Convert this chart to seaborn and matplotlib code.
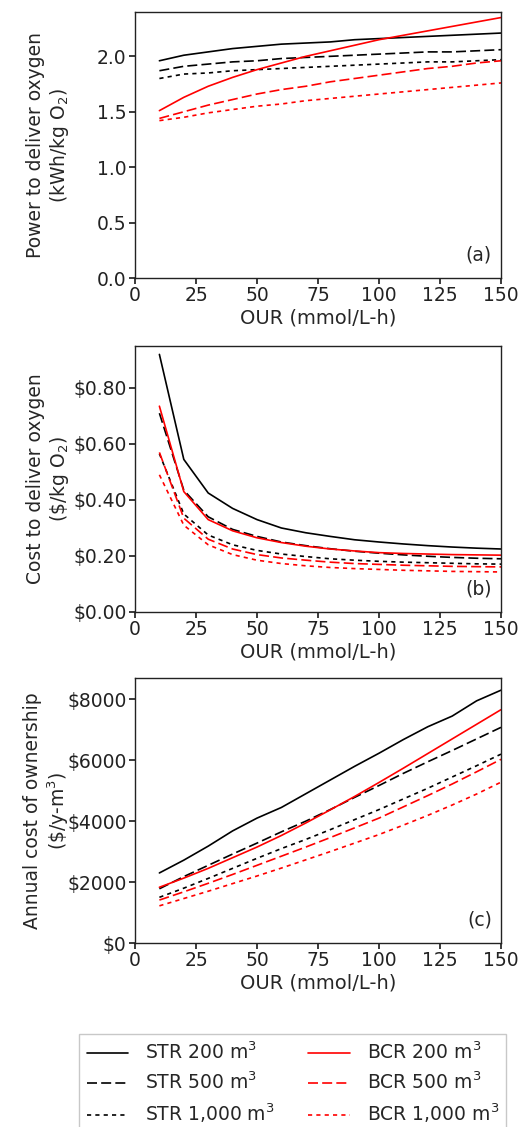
import numpy as np
import pandas as pd
import matplotlib
matplotlib.use("Agg")
import matplotlib.pyplot as plt
import seaborn as sns

# ---- data ----
our = [10, 20, 30, 40, 50, 60, 70, 80, 90, 100, 110, 120, 130, 140, 150]

power_str200 = [1.96, 2.01, 2.04, 2.07, 2.09, 2.11, 2.12, 2.13, 2.15, 2.16, 2.17, 2.18, 2.19, 2.20, 2.21]
power_str500 = [1.87, 1.91, 1.93, 1.95, 1.96, 1.98, 1.99, 2.00, 2.01, 2.02, 2.03, 2.04, 2.04, 2.05, 2.06]
power_str1000 = [1.80, 1.84, 1.85, 1.87, 1.88, 1.89, 1.90, 1.91, 1.92, 1.93, 1.94, 1.95, 1.95, 1.96, 1.97]
power_bcr200 = [1.51, 1.63, 1.73, 1.81, 1.88, 1.94, 2.00, 2.05, 2.10, 2.15, 2.19, 2.23, 2.27, 2.31, 2.35]
power_bcr500 = [1.44, 1.50, 1.56, 1.61, 1.66, 1.70, 1.73, 1.77, 1.80, 1.83, 1.86, 1.89, 1.91, 1.94, 1.96]
power_bcr1000 = [1.42, 1.45, 1.49, 1.52, 1.55, 1.57, 1.60, 1.62, 1.64, 1.66, 1.68, 1.70, 1.72, 1.74, 1.76]

cost_str200 = [0.92, 0.545, 0.425, 0.37, 0.33, 0.30, 0.283, 0.27, 0.258, 0.25, 0.243, 0.237, 0.232, 0.228, 0.225]
cost_str500 = [0.71, 0.435, 0.34, 0.295, 0.27, 0.25, 0.237, 0.226, 0.217, 0.21, 0.204, 0.199, 0.195, 0.192, 0.19]
cost_str1000 = [0.565, 0.35, 0.275, 0.24, 0.22, 0.207, 0.198, 0.19, 0.185, 0.181, 0.178, 0.176, 0.174, 0.172, 0.171]
cost_bcr200 = [0.735, 0.43, 0.33, 0.29, 0.265, 0.248, 0.235, 0.225, 0.218, 0.212, 0.209, 0.207, 0.205, 0.204, 0.203]
cost_bcr500 = [0.57, 0.335, 0.26, 0.225, 0.205, 0.193, 0.185, 0.178, 0.173, 0.17, 0.167, 0.165, 0.163, 0.162, 0.161]
cost_bcr1000 = [0.49, 0.31, 0.24, 0.205, 0.185, 0.173, 0.165, 0.159, 0.155, 0.152, 0.149, 0.147, 0.145, 0.144, 0.143]

own_str200 = [2300, 2720, 3180, 3680, 4100, 4450, 4900, 5350, 5800, 6230, 6680, 7100, 7450, 7950, 8300]
own_str500 = [1780, 2180, 2550, 2920, 3280, 3650, 4000, 4380, 4780, 5170, 5570, 5950, 6320, 6700, 7080]
own_str1000 = [1500, 1800, 2120, 2450, 2780, 3100, 3400, 3720, 4050, 4380, 4730, 5080, 5450, 5820, 6200]
own_bcr200 = [1830, 2130, 2450, 2800, 3150, 3530, 3940, 4370, 4810, 5270, 5740, 6220, 6700, 7180, 7660]
own_bcr500 = [1410, 1680, 1960, 2250, 2550, 2850, 3150, 3460, 3780, 4100, 4470, 4840, 5220, 5620, 6030]
own_bcr1000 = [1220, 1460, 1700, 1950, 2200, 2460, 2730, 3000, 3280, 3560, 3870, 4190, 4530, 4890, 5280]

series_labels = ["STR 200 m$^3$", "STR 500 m$^3$", "STR 1,000 m$^3$",
                 "BCR 200 m$^3$", "BCR 500 m$^3$", "BCR 1,000 m$^3$"]

x_ticks = [0, 25, 50, 75, 100, 125, 150]
ticks_a = [0.0, 0.5, 1.0, 1.5, 2.0]
ticks_b = [0.0, 0.2, 0.4, 0.6, 0.8]
ticks_c = [0, 2000, 4000, 6000, 8000]

# ---- style ----
sns.set_theme(style="ticks")
plt.rcParams["font.family"] = ["DejaVu Sans"]
FS = 13.5
plt.rcParams["font.size"] = FS
plt.rcParams["axes.linewidth"] = 1.0
plt.rcParams["xtick.labelsize"] = FS
plt.rcParams["ytick.labelsize"] = FS

colors = ["black", "black", "black", "red", "red", "red"]
styles = ["-", (0, (6, 2.5)), (0, (2.5, 2.5)), "-", (0, (6, 2.5)), (0, (2.5, 2.5))]

W, H = 523, 1127
fig = plt.figure(figsize=(W / 100, H / 100), dpi=100)

def ax_rect(top_px, bottom_px, left_px=135, right_px=501):
    return [left_px / W, 1 - bottom_px / H, (right_px - left_px) / W, (bottom_px - top_px) / H]

ax_a = fig.add_axes(ax_rect(12, 278))
ax_b = fig.add_axes(ax_rect(346, 612))
ax_c = fig.add_axes(ax_rect(678, 943))

panels = [
    (ax_a, [power_str200, power_str500, power_str1000, power_bcr200, power_bcr500, power_bcr1000]),
    (ax_b, [cost_str200, cost_str500, cost_str1000, cost_bcr200, cost_bcr500, cost_bcr1000]),
    (ax_c, [own_str200, own_str500, own_str1000, own_bcr200, own_bcr500, own_bcr1000]),
]

handles = []
for i, (ax, data) in enumerate(panels):
    for j, vals in enumerate(data):
        df = pd.DataFrame({"OUR": our, "val": vals})
        sns.lineplot(data=df, x="OUR", y="val", ax=ax, color=colors[j],
                     linestyle=styles[j], linewidth=1.2, label=series_labels[j],
                     legend=False)
    if i == 0:
        handles = ax.get_lines()[:6]

for ax in (ax_a, ax_b, ax_c):
    ax.set_xlim(0, 150)
    ax.set_xticks(x_ticks)
    ax.set_xlabel("OUR (mmol/L-h)", fontsize=FS + 0.5, labelpad=2)
    for s in ax.spines.values():
        s.set_color("#222222")
    ax.tick_params(direction="out", length=4, colors="#222222", pad=2)

ax_a.set_ylim(0, 2.4)
ax_a.set_yticks(ticks_a)
ax_a.set_yticklabels([f"{t:.1f}" for t in ticks_a])
ax_a.set_ylabel("Power to deliver oxygen\n(kWh/kg O$_2$)", fontsize=FS)

ax_b.set_ylim(0, 0.95)
ax_b.set_yticks(ticks_b)
ax_b.set_yticklabels([f"${t:.2f}" for t in ticks_b])
ax_b.set_ylabel("Cost to deliver oxygen\n(\\$/kg O$_2$)", fontsize=FS)

ax_c.set_ylim(0, 8700)
ax_c.set_yticks(ticks_c)
ax_c.set_yticklabels([f"${t}" for t in ticks_c])
ax_c.set_ylabel("Annual cost of ownership\n(\\$/y-m$^3$)", fontsize=FS)

for ax, tag in zip((ax_a, ax_b, ax_c), ["(a)", "(b)", "(c)"]):
    ax.text(0.975, 0.05, tag, transform=ax.transAxes, ha="right", va="bottom", fontsize=FS)

for ax in (ax_a, ax_b, ax_c):
    ax.yaxis.set_label_coords(-0.175, 0.5)

leg = fig.legend(handles=handles, labels=series_labels, ncol=2,
                 loc="upper left", bbox_to_anchor=(70 / W, 1 - 1025 / H),
                 frameon=True, fontsize=FS, handlelength=2.2,
                 labelspacing=0.45, columnspacing=1.8, handletextpad=0.9,
                 borderpad=0.4, fancybox=False)
leg.get_frame().set_edgecolor("#bbbbbb")

fig.savefig("out.png", dpi=100)
